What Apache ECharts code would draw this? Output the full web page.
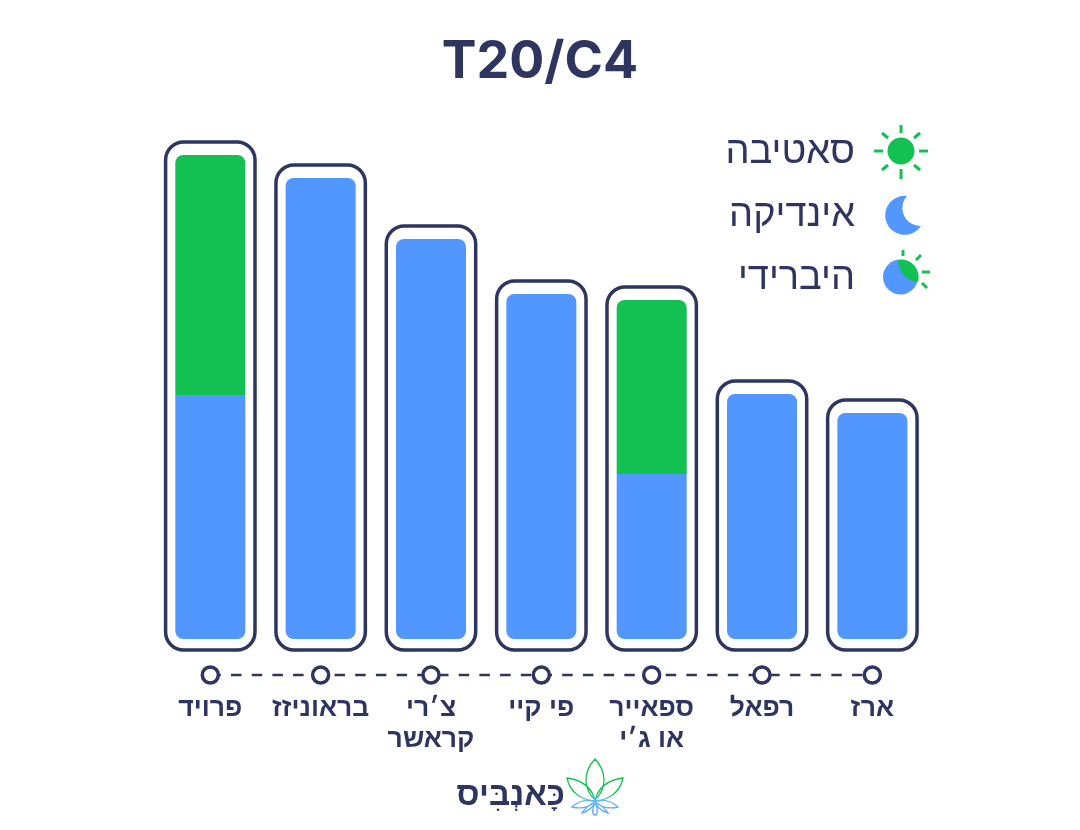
<!DOCTYPE html>
<html lang="he">
<head>
<meta charset="utf-8">
<title>T20/C4</title>
<script src="https://cdn.jsdelivr.net/npm/echarts@6/dist/echarts.min.js"></script>
<style>
    html, body {margin: 0; padding: 0; background: #fff;}
    #main {width: 1080px; height: 830px;}
</style>
</head>
<body>
<div id="main"></div>
<script>
// values, there is no scale on the chart so the unit is arbitrary
const strains = ['פרויד', 'בראוניזז', 'צ׳רי\nקראשר', 'פי קיי', 'ספאייר\nאו ג׳י', 'רפאל', 'ארז'];
const indica = [244, 461, 400, 345, 165, 245, 226];
const sativa = [240, 0, 0, 0, 174, 0, 0];
const legendNames = ['סאטיבה', 'אינדיקה', 'היברידי'];

const dark = '#2f3561';
const blue = '#5297ff';
const green = '#12c151';
const hebrewFont = '"Liberation Sans", "DejaVu Sans", sans-serif';

const totals = indica.map((v, i) => v + sativa[i]);

// outline around every bar, it goes a bit over the top and below the baseline
const renderOutline = (params, api) => {
    const top = api.coord([api.value(0), api.value(1)]);
    const base = api.coord([api.value(0), 0]);
    const y = top[1] - 13;
    return {
        type: 'rect',
        shape: {x: top[0] - 44.7, y: y, width: 89.4, height: base[1] + 11 - y, r: 18},
        style: {fill: '#fff', stroke: dark, lineWidth: 3.5}
    };
};

// rays of a sun, [x1, y1, x2, y2]
const ray = (p, color) => ({
    type: 'line',
    shape: {x1: p[0], y1: p[1], x2: p[2], y2: p[3]},
    style: {stroke: color, lineWidth: 3}
});

const legendText = (name, y) => ({
    type: 'text',
    style: {
        text: name, x: 855, y: y, fill: dark, align: 'right', verticalAlign: 'middle',
        font: '38px ' + hebrewFont
    }
});

const leafPath = 'M595 759 C583 772 583 788 595 800 C607 788 607 772 595 759 Z' +
    'M567 778 C570 793 582 800 595 801 C592 787 582 780 567 778 Z' +
    'M623 778 C620 793 608 800 595 801 C598 787 608 780 623 778 Z' +
    'M572 807 C580 800 588 799 595 802 C588 808 580 809 572 807 Z' +
    'M618 807 C610 800 602 799 595 802 C602 808 610 809 618 807 Z' +
    'M582 813 C586 807 590 804 595 802 C593 808 588 811 582 813 Z' +
    'M608 813 C604 807 600 804 595 802 C597 808 602 811 608 813 Z' +
    'M595 803 C592 808 592 815 595 815 C598 815 598 808 595 803 Z';

// the graphic component has no plain path type, so register them as shapes
echarts.graphic.registerShape('moonIcon', echarts.graphic.extendPath(
    'M907 196 A19.5 19.5 0 1 0 921 226 A18 18 0 0 1 907 196 Z', {}));
echarts.graphic.registerShape('hybridIcon', echarts.graphic.extendPath(
    'M898 260 A17.5 17.5 0 0 1 918 282 A22 22 0 0 1 898 260 Z', {}));
echarts.graphic.registerShape('leafLogo', echarts.graphic.extendPath(leafPath, {}));

const graphics = [
    legendText(legendNames[0], 153),
    legendText(legendNames[1], 216),
    legendText(legendNames[2], 279),
    // sun
    {type: 'circle', shape: {cx: 901, cy: 151, r: 13.5}, style: {fill: green}},
    ray([901, 125, 901, 133], green), ray([901, 169, 901, 179], green),
    ray([874, 151, 883, 151], green), ray([919, 151, 928, 151], green),
    ray([882, 133, 888, 138], green), ray([914, 138, 920, 133], green),
    ray([882, 170, 888, 165], green), ray([914, 165, 920, 170], green),
    // moon
    {type: 'moonIcon', style: {fill: blue}},
    // half and half
    {type: 'circle', shape: {cx: 900.5, cy: 277, r: 17.5}, style: {fill: blue}},
    {type: 'hybridIcon', style: {fill: green}},
    ray([903, 250, 903, 256], green), ray([916, 260, 921, 255], green),
    ray([922, 272, 930, 272], green), ray([922, 283, 927, 288], green),
    // logo
    {
        type: 'text',
        style: {
            text: 'כָּאנְבִּיס', x: 565, y: 796, fill: dark, align: 'right', verticalAlign: 'middle',
            font: 'bold 33px ' + hebrewFont
        }
    },
    {
        type: 'leafLogo',
        style: {
            fill: 'none',
            lineWidth: 1.3,
            stroke: {
                type: 'linear', x: 0, y: 0, x2: 0, y2: 1,
                colorStops: [
                    {offset: 0, color: green},
                    {offset: 0.58, color: green},
                    {offset: 0.74, color: '#66b8ff'},
                    {offset: 1, color: blue}
                ]
            }
        }
    }
];

const option = {
    backgroundColor: '#fff',
    animation: false,
    title: {
        text: 'T20/C4',
        left: 'center',
        top: 31,
        textStyle: {color: dark, fontFamily: 'Inter', fontWeight: 700, fontSize: 52}
    },
    grid: [
        {left: 155.13, width: 772.4, top: 139, height: 500},
        {left: 155.13, width: 772.4, top: 660, height: 30}
    ],
    xAxis: [
        {type: 'category', gridIndex: 0, data: strains, show: false},
        {
            type: 'category',
            gridIndex: 1,
            data: strains,
            axisLine: {show: false},
            axisTick: {show: false},
            axisLabel: {
                color: dark,
                fontFamily: hebrewFont,
                fontWeight: 'bold',
                fontSize: 26.5,
                lineHeight: 31,
                margin: 3,
                interval: 0
            }
        }
    ],
    yAxis: [
        {type: 'value', gridIndex: 0, min: 0, max: 500, show: false},
        {type: 'value', gridIndex: 1, min: -1, max: 1, show: false}
    ],
    series: [
        {
            type: 'custom',
            name: 'outline',
            xAxisIndex: 0,
            yAxisIndex: 0,
            z: 1,
            clip: false,
            silent: true,
            renderItem: renderOutline,
            encode: {x: 0, y: 1},
            data: totals.map((v, i) => [i, v])
        },
        {
            type: 'bar',
            name: legendNames[1],
            stack: 'strain',
            barWidth: 70,
            z: 2,
            itemStyle: {color: blue},
            data: indica.map((v, i) => ({
                value: v,
                itemStyle: {borderRadius: sativa[i] > 0 ? [0, 0, 8, 8] : 8}
            }))
        },
        {
            type: 'bar',
            name: legendNames[0],
            stack: 'strain',
            barWidth: 70,
            z: 2,
            itemStyle: {color: green, borderRadius: [8, 8, 0, 0]},
            data: sativa.map(v => v > 0 ? v : null)
        },
        {
            type: 'line',
            xAxisIndex: 1,
            yAxisIndex: 1,
            symbol: 'circle',
            symbolSize: 16,
            showSymbol: true,
            itemStyle: {color: '#fff', borderColor: dark, borderWidth: 3.5},
            lineStyle: {color: dark, width: 2.5, type: [10.5, 10.2]},
            z: 3,
            data: strains.map(() => 0)
        }
    ],
    graphic: {elements: graphics}
};

const myChart = echarts.init(document.getElementById('main'));
myChart.setOption(option);
</script>
</body>
</html>
